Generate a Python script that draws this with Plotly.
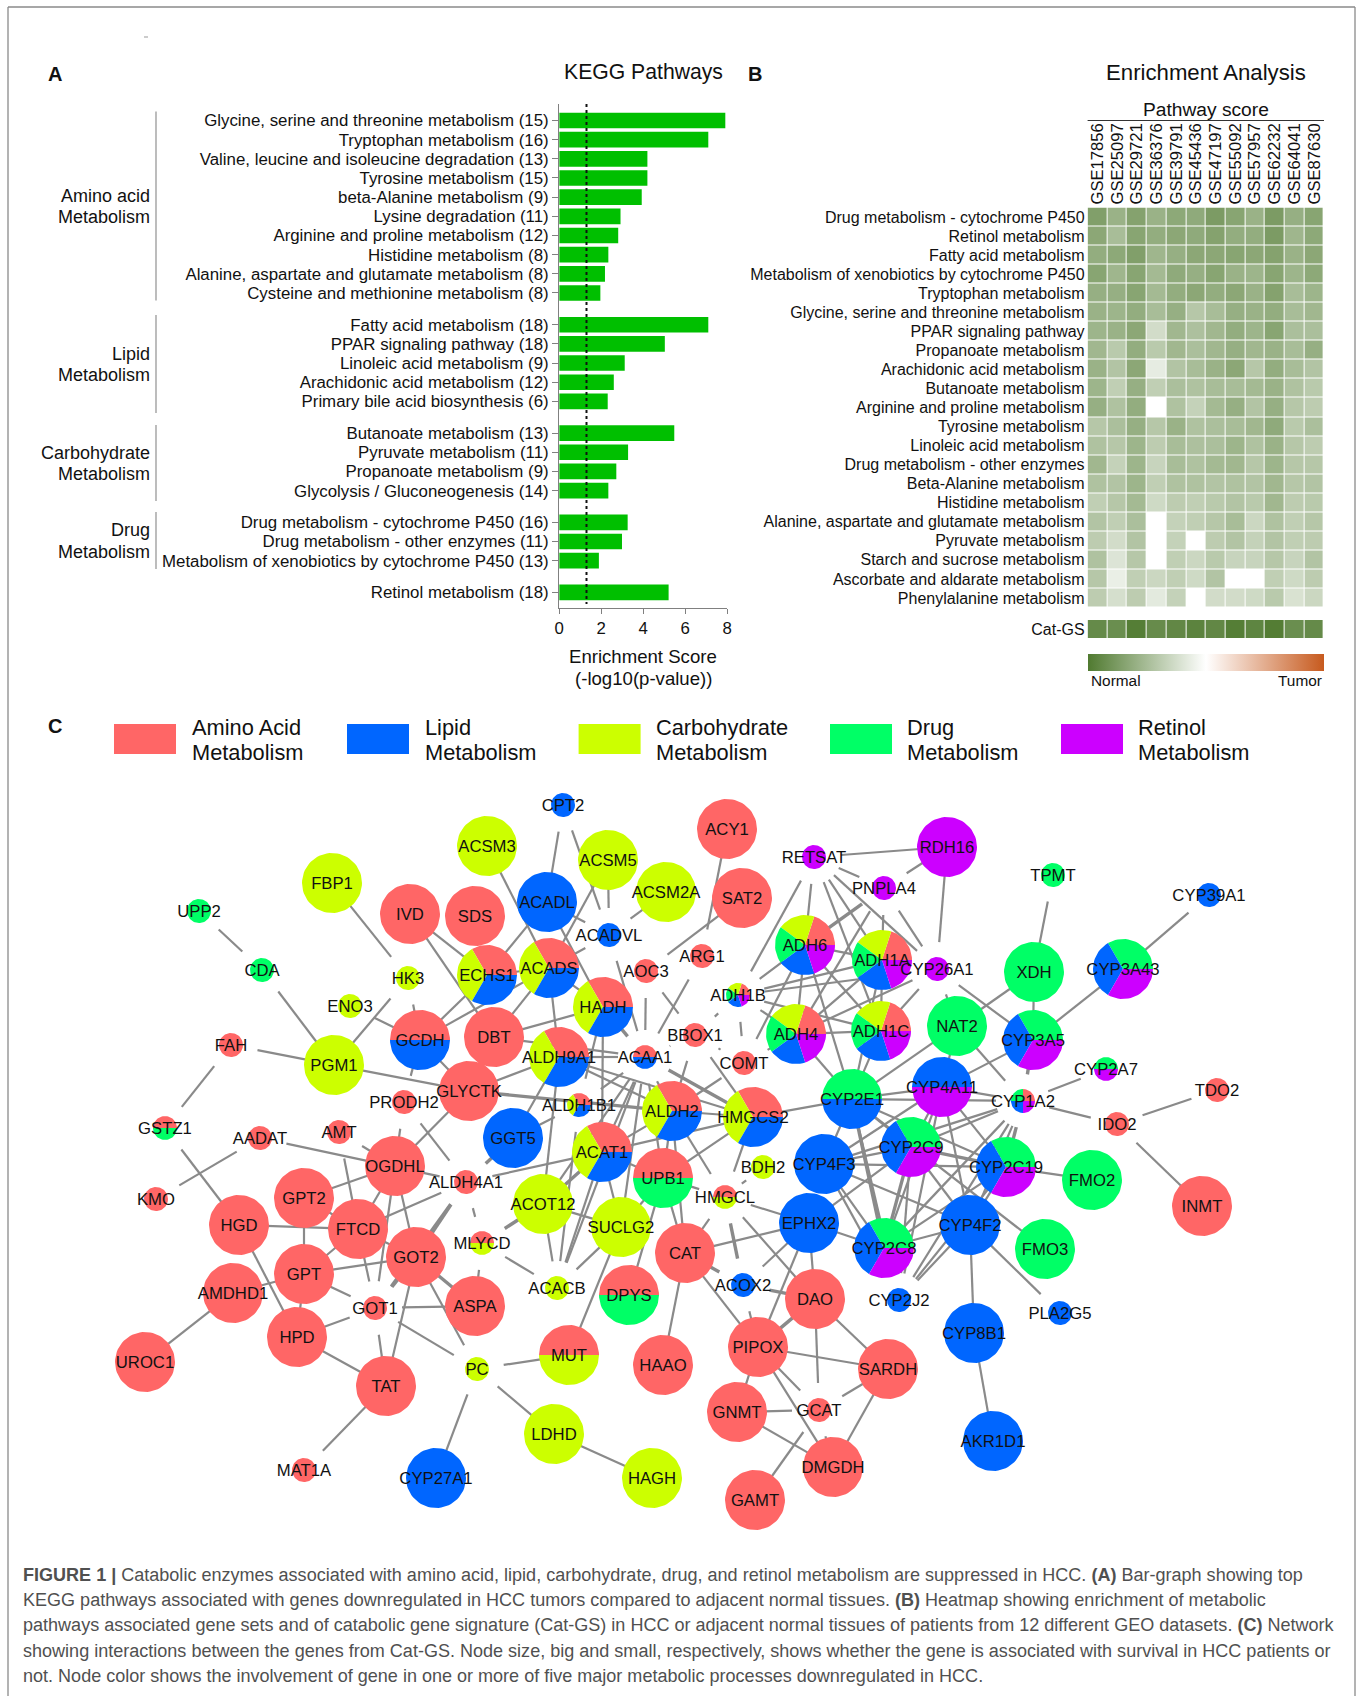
import math
import plotly.graph_objects as go

W, H = 1362, 1696
FONT = "Liberation Sans"
RED, BLUE, YEL, GRN, PUR = "#FF6666", "#0066FF", "#CCFF00", "#00FF66", "#CC00FF"

# ---------- Panel A data ----------
bar_groups = [
    (["Glycine, serine and threonine metabolism (15)", "Tryptophan metabolism (16)",
      "Valine, leucine and isoleucine degradation (13)", "Tyrosine metabolism (15)",
      "beta-Alanine metabolism (9)", "Lysine degradation (11)", "Arginine and proline metabolism (12)",
      "Histidine metabolism (8)", "Alanine, aspartate and glutamate metabolism (8)",
      "Cysteine and methionine metabolism (8)"],
     [7.91, 7.1, 4.2, 4.2, 3.93, 2.92, 2.81, 2.34, 2.18, 1.96]),
    (["Fatty acid metabolism (18)", "PPAR signaling pathway (18)", "Linoleic acid metabolism (9)",
      "Arachidonic acid metabolism (12)", "Primary bile acid biosynthesis (6)"],
     [7.1, 5.03, 3.12, 2.6, 2.31]),
    (["Butanoate metabolism (13)", "Pyruvate metabolism (11)", "Propanoate metabolism (9)",
      "Glycolysis / Gluconeogenesis (14)"],
     [5.48, 3.28, 2.72, 2.34]),
    (["Drug metabolism - cytochrome P450 (16)", "Drug metabolism - other enzymes (11)",
      "Metabolism of xenobiotics by cytochrome P450 (13)"],
     [3.26, 2.99, 1.89]),
    (["Retinol metabolism (18)"], [5.21]),
]
group_titles = [("Amino acid", 195.5, 300.4, 111.6), ("Lipid", 353.5, 413, 315),
                ("Carbohydrate", 453, 501, 425), ("Drug", 530, 569, 512)]
xticks_bar = [0, 2, 4, 6, 8]
GROUP_GAP = 1.655

# ---------- Panel B data ----------
gse = ["GSE17856", "GSE25097", "GSE29721", "GSE36376", "GSE39791", "GSE45436", "GSE47197", "GSE55092",
       "GSE57957", "GSE62232", "GSE64041", "GSE87630"]
pathways = ["Drug metabolism - cytochrome P450", "Retinol metabolism", "Fatty acid metabolism",
            "Metabolism of xenobiotics by cytochrome P450", "Tryptophan metabolism",
            "Glycine, serine and threonine metabolism", "PPAR signaling pathway", "Propanoate metabolism",
            "Arachidonic acid metabolism", "Butanoate metabolism", "Arginine and proline metabolism",
            "Tyrosine metabolism", "Linoleic acid metabolism", "Drug metabolism - other enzymes",
            "Beta-Alanine metabolism", "Histidine metabolism", "Alanine, aspartate and glutamate metabolism",
            "Pyruvate metabolism", "Starch and sucrose metabolism", "Ascorbate and aldarate metabolism",
            "Phenylalanine metabolism"]
N = None
scores = [
    [-.72, -.58, -.70, -.58, -.65, -.64, -.75, -.68, -.58, -.75, -.60, -.68],
    [-.66, -.50, -.68, -.62, -.66, -.64, -.70, -.62, -.62, -.75, -.55, -.65],
    [-.62, -.65, -.72, -.55, -.60, -.66, -.66, -.68, -.66, -.70, -.58, -.66],
    [-.68, -.55, -.68, -.52, -.64, -.60, -.68, -.58, -.56, -.68, -.56, -.65],
    [-.60, -.60, -.68, -.52, -.62, -.66, -.62, -.66, -.58, -.70, -.50, -.56],
    [-.58, -.56, -.62, -.50, -.60, -.42, -.50, -.60, -.58, -.62, -.50, -.54],
    [-.56, -.58, -.66, -.26, -.54, -.47, -.54, -.62, -.56, -.68, -.48, -.48],
    [-.54, -.40, -.62, -.40, -.54, -.48, -.54, -.60, -.54, -.58, -.50, -.60],
    [-.58, -.44, -.66, -.14, -.44, -.50, -.58, -.66, -.42, -.62, -.50, -.44],
    [-.56, -.36, -.60, -.36, -.48, -.46, -.50, -.50, -.52, -.58, -.46, -.40],
    [-.60, -.46, -.62, N, -.46, -.34, -.52, -.60, -.44, -.60, -.42, -.38],
    [-.42, -.48, -.60, -.42, -.58, -.46, -.48, -.50, -.54, -.64, -.40, -.48],
    [-.46, -.42, -.56, -.38, -.50, -.47, -.48, -.56, -.46, -.58, -.42, -.38],
    [-.54, -.34, -.56, -.32, -.50, -.46, -.52, -.54, -.42, -.56, -.42, -.42],
    [-.46, -.44, -.56, -.36, -.46, -.46, -.44, -.46, -.44, -.54, -.42, -.44],
    [-.36, -.42, -.52, -.28, -.38, -.36, -.40, -.44, -.40, -.54, -.38, -.40],
    [-.44, -.36, -.48, N, -.34, -.36, -.42, -.50, -.30, -.46, -.36, -.42],
    [-.38, -.26, -.44, N, -.34, N, -.38, -.44, -.34, -.44, -.36, -.38],
    [-.46, -.20, -.42, N, -.36, -.30, -.40, -.32, -.32, -.42, -.32, -.44],
    [-.42, -.12, -.36, -.30, -.36, -.28, -.44, N, N, -.36, -.28, -.38],
    [-.38, -.24, -.38, -.16, -.34, N, -.26, -.26, -.28, -.40, -.22, -.30],
]
cat_gs = [-.88, -.85, -.97, -.87, -.90, -.93, -.90, -.97, -.92, -.98, -.85, -.88]
heat_scale = [[0, "#507A30"], [0.5, "#FFFFFF"], [1, "#C75A1E"]]

# ---------- Panel C data: name, x, y, big(1)/small(0), categories ----------
# categories: A amino acid, C carbohydrate, D drug, L lipid, R retinol
nodes = [
    ("CPT2", 563, 805, 0, "L"), ("ACSM3", 487, 846, 1, "C"), ("ACSM5", 608, 860, 1, "C"),
    ("FBP1", 332, 883, 1, "C"), ("UPP2", 199, 911, 0, "D"), ("ACADL", 547, 902, 1, "L"),
    ("IVD", 410, 914, 1, "A"), ("SDS", 475, 916, 1, "A"), ("ACSM2A", 666, 892, 1, "C"),
    ("ACADVL", 609, 935, 0, "L"), ("CDA", 262, 970, 0, "D"), ("ECHS1", 487, 975, 1, "ACL"),
    ("ACADS", 549, 968, 1, "ACL"), ("HK3", 408, 978, 0, "C"), ("AOC3", 646, 971, 0, "A"),
    ("ENO3", 350, 1006, 0, "C"), ("HADH", 603, 1007, 1, "ACL"), ("GCDH", 420, 1040, 1, "AL"),
    ("DBT", 494, 1037, 1, "A"), ("FAH", 231, 1045, 0, "A"), ("PGM1", 334, 1065, 1, "C"),
    ("ALDH9A1", 559, 1057, 1, "ACL"), ("ACAA1", 645, 1057, 0, "AL"), ("GLYCTK", 469, 1091, 1, "A"),
    ("PRODH2", 404, 1102, 0, "A"), ("ALDH1B1", 579, 1105, 0, "ACL"), ("ALDH2", 672, 1111, 1, "ACL"),
    ("GGT5", 513, 1138, 1, "L"), ("GSTZ1", 165, 1128, 0, "AD"), ("AADAT", 260, 1138, 0, "A"),
    ("AMT", 339, 1132, 0, "A"), ("OGDHL", 395, 1166, 1, "A"), ("ACAT1", 602, 1152, 1, "ACL"),
    ("UPB1", 663, 1178, 1, "AD"), ("ALDH4A1", 466, 1182, 0, "A"), ("KMO", 156, 1199, 0, "A"),
    ("GPT2", 304, 1198, 1, "A"), ("ACOT12", 543, 1204, 1, "C"), ("HGD", 239, 1225, 1, "A"),
    ("FTCD", 358, 1229, 1, "A"), ("SUCLG2", 621, 1227, 1, "C"), ("GOT2", 416, 1257, 1, "A"),
    ("MLYCD", 482, 1243, 0, "AC"), ("GPT", 304, 1274, 1, "A"), ("AMDHD1", 233, 1293, 1, "A"),
    ("ASPA", 475, 1306, 1, "A"), ("ACACB", 557, 1288, 0, "C"), ("DPYS", 629, 1295, 1, "AD"),
    ("GOT1", 375, 1308, 0, "A"), ("CAT", 685, 1253, 1, "A"), ("HPD", 297, 1337, 1, "A"),
    ("UROC1", 145, 1362, 1, "A"), ("TAT", 386, 1386, 1, "A"), ("PC", 477, 1369, 0, "C"),
    ("MUT", 569, 1355, 1, "AC"), ("HAAO", 663, 1365, 1, "A"), ("LDHD", 554, 1434, 1, "C"),
    ("HAGH", 652, 1478, 1, "C"), ("MAT1A", 304, 1470, 0, "A"), ("CYP27A1", 436, 1478, 1, "L"),
    ("ACY1", 727, 829, 1, "A"), ("RDH16", 947, 847, 1, "R"), ("RETSAT", 814, 857, 0, "R"),
    ("TPMT", 1053, 875, 0, "D"), ("CYP39A1", 1209, 895, 0, "L"), ("PNPLA4", 884, 888, 0, "R"),
    ("SAT2", 742, 898, 1, "A"), ("ARG1", 702, 956, 0, "A"), ("ADH6", 805, 945, 1, "ACDLR"),
    ("ADH1A", 882, 960, 1, "ACDLR"), ("CYP26A1", 937, 969, 0, "R"), ("XDH", 1034, 972, 1, "D"),
    ("CYP3A43", 1123, 969, 1, "DLR"), ("ADH1B", 738, 995, 0, "ACDLR"), ("ADH4", 796, 1034, 1, "ACDLR"),
    ("ADH1C", 881, 1031, 1, "ACDLR"), ("NAT2", 957, 1026, 1, "D"), ("CYP3A5", 1033, 1040, 1, "DLR"),
    ("BBOX1", 695, 1035, 0, "A"), ("COMT", 744, 1063, 0, "A"), ("CYP2A7", 1106, 1069, 0, "DR"),
    ("TDO2", 1217, 1090, 0, "A"), ("CYP2E1", 852, 1099, 1, "DL"), ("CYP4A11", 942, 1087, 1, "LR"),
    ("CYP1A2", 1023, 1101, 0, "ADLR"), ("HMGCS2", 753, 1117, 1, "ACL"), ("IDO2", 1117, 1124, 0, "A"),
    ("CYP2C9", 911, 1147, 1, "DLR"), ("CYP4F3", 824, 1164, 1, "L"), ("CYP2C19", 1006, 1167, 1, "DLR"),
    ("FMO2", 1092, 1180, 1, "D"), ("BDH2", 763, 1167, 0, "C"), ("HMGCL", 725, 1197, 0, "AC"),
    ("INMT", 1202, 1206, 1, "A"), ("EPHX2", 809, 1223, 1, "L"), ("CYP4F2", 970, 1225, 1, "L"),
    ("FMO3", 1045, 1249, 1, "D"), ("CYP2C8", 884, 1248, 1, "DLR"), ("ACOX2", 743, 1285, 0, "L"),
    ("CYP2J2", 899, 1300, 0, "L"), ("PLA2G5", 1060, 1313, 0, "L"), ("DAO", 815, 1299, 1, "A"),
    ("CYP8B1", 974, 1333, 1, "L"), ("PIPOX", 758, 1347, 1, "A"), ("SARDH", 888, 1369, 1, "A"),
    ("GNMT", 737, 1412, 1, "A"), ("GCAT", 819, 1410, 0, "A"), ("AKR1D1", 993, 1441, 1, "L"),
    ("DMGDH", 833, 1467, 1, "A"), ("GAMT", 755, 1500, 1, "A"),
]
edges = """CPT2-ACADL CPT2-ACADVL ACSM3-ACADS ACSM5-ACADS ACSM5-ACADVL ACSM2A-ACADVL ACADL-ACADVL ACADL-ECHS1
ACADL-HADH ACADVL-ACADS ACADVL-ACAA1 FBP1-HK3 UPP2-CDA CDA-PGM1 HK3-PGM1 HK3-GCDH ENO3-GCDH IVD-ECHS1 IVD-DBT
GCDH-ECHS1 GCDH-ACADS ACADS-DBT HADH-DBT GCDH-GLYCTK GCDH-PRODH2 ACADS-ALDH9A1 ACADS-HADH ECHS1-ACADS FAH-PGM1
FAH-GSTZ1 GSTZ1-HGD KMO-AADAT AADAT-ALDH4A1 AMT-OGDHL AMT-FTCD PGM1-GLYCTK GLYCTK-ALDH9A1
PRODH2-ALDH4A1 OGDHL-GLYCTK OGDHL-PRODH2 OGDHL-GPT2 OGDHL-FTCD OGDHL-GOT1 OGDHL-GOT2 ALDH4A1-ACAT1
ALDH4A1-FTCD ALDH4A1-MLYCD ALDH4A1-GOT1 MLYCD-ASPA MLYCD-ACACB ACOT12-SUCLG2 ACOT12-ACACB
ACOT12-ALDH9A1 GGT5-ALDH1B1 GGT5-ALDH9A1 ALDH1B1-ALDH9A1 ALDH1B1-ACACB ALDH1B1-ACAA1 ACAT1-ALDH2 ACAT1-HADH
ACAT1-ACAA1 ACAT1-UPB1 ACAT1-SUCLG2 ACAT1-ACACB ACAT1-HMGCS2 SUCLG2-ACACB SUCLG2-MUT SUCLG2-ACAA1 UPB1-DPYS
UPB1-ACAA1 UPB1-HMGCL ALDH2-ACAA1 ALDH2-HMGCS2 ALDH2-HMGCL HMGCS2-HMGCL HMGCS2-UPB1 HMGCS2-CYP2E1 ALDH2-ALDH9A1
ALDH2-COMT ALDH9A1-HMGCS2 ALDH9A1-ACAA1 AOC3-ACAA1 AOC3-BBOX1 AOC3-HADH ARG1-ACAA1 SAT2-AOC3 ACY1-ARG1 BBOX1-ALDH2
BBOX1-HMGCS2 BBOX1-ACAA1 BBOX1-COMT ADH1B-COMT ADH1B-BBOX1 ADH1B-RETSAT ADH1B-ADH6 ADH1B-ADH1A ADH1B-ADH1C
ADH1B-ADH4 ADH1B-CYP26A1 COMT-ADH4 COMT-ADH6 RETSAT-RDH16 RETSAT-PNPLA4 RETSAT-ADH6 RETSAT-ADH1A RETSAT-CYP26A1
RETSAT-ADH1C PNPLA4-RDH16 PNPLA4-ADH1A PNPLA4-CYP26A1 PNPLA4-ADH4 RDH16-CYP26A1 CYP26A1-ADH1A
CYP26A1-ADH1C CYP26A1-ADH4 CYP26A1-NAT2 CYP26A1-CYP3A5 ADH6-ADH1A ADH6-ADH4 ADH6-ADH1C ADH6-CYP2E1 ADH1A-ADH1C
ADH1A-ADH4 ADH4-CYP2E1 ADH4-ADH1C ADH1C-CYP2E1 ADH1A-CYP2E1 TPMT-XDH XDH-CYP3A5 XDH-NAT2 CYP3A43-CYP3A5
CYP3A43-CYP39A1 CYP3A5-CYP4A11 NAT2-CYP1A2 NAT2-CYP2E1 NAT2-CYP4A11 CYP1A2-CYP2A7 CYP1A2-IDO2 IDO2-TDO2
IDO2-INMT CYP4A11-CYP1A2 CYP2E1-CYP1A2 CYP2E1-CYP4A11 CYP2E1-CYP2C9 CYP2E1-CYP4F3 CYP2E1-CYP2C19
CYP4A11-CYP2C9 CYP4A11-CYP2C8 CYP4A11-CYP4F2 CYP4A11-CYP2C19 CYP4A11-CYP4F3 CYP1A2-CYP2C9 CYP1A2-CYP2C8
CYP1A2-CYP4F2 CYP1A2-CYP2J2 CYP1A2-CYP4F3 CYP2C9-CYP4F3 CYP2C9-CYP4F2 CYP2C9-EPHX2 CYP2C9-CYP2J2
CYP2C19-CYP4F3 CYP2C19-CYP2C8 CYP2C19-CYP4F2 CYP2C19-FMO2 CYP2C19-CYP2J2 CYP4F3-CYP2C8 CYP4F3-CYP4F2
EPHX2-CYP2C8 EPHX2-HMGCL EPHX2-CAT EPHX2-ACOX2 EPHX2-DAO EPHX2-PIPOX CYP2C8-CYP4F2 CYP2C8-CYP2J2 CYP4F2-CYP2J2
CYP4F2-CYP8B1 CYP4F2-PLA2G5 CYP2E1-FMO3 CYP8B1-AKR1D1 HMGCL-BDH2 HMGCL-CAT HMGCL-DAO CAT-PIPOX
CAT-HAAO CAT-UPB1 ACOX2-PIPOX DAO-SARDH DAO-GCAT PIPOX-SARDH PIPOX-GCAT PIPOX-GNMT PIPOX-DMGDH SARDH-GCAT
SARDH-DMGDH GNMT-GCAT GNMT-DMGDH GCAT-DMGDH GCAT-GAMT HGD-FTCD HGD-HPD GPT2-FTCD GPT2-GPT GPT-FTCD GPT-GOT2
GPT-AMDHD1 GPT-GOT1 GPT-HPD FTCD-GOT2 FTCD-GOT1 GOT2-TAT GOT2-PC GOT1-ASPA GOT1-HPD GOT1-TAT GOT1-PC
AMDHD1-UROC1 HPD-TAT TAT-MAT1A PC-MUT PC-CYP27A1 PC-LDHD LDHD-HAGH
HADH-ALDH1B1 DBT-ACAA1 ALDH2-CAT UPB1-SUCLG2 ALDH2-UPB1 ACAT1-ALDH1B1 ACAA1-ACOT12 ACAA1-ACACB
CYP4A11-CYP2J2 CYP4F3-CYP2J2 CYP2E1-CYP2J2""".split()
thick_edges = """GLYCTK-ALDH2 ALDH4A1-GGT5 ALDH4A1-GOT2 MLYCD-ACOT12 ACOT12-ACAT1 HMGCS2-ACAA1 HADH-ACAA1 PNPLA4-ADH6
CYP3A5-CYP1A2 CYP2E1-CYP2C8 CYP1A2-CYP2C19 CYP2C9-CYP2C19 CYP2C9-CYP2C8 HMGCL-ACOX2 CAT-ACOX2 ACOX2-DAO DAO-PIPOX
GOT2-GOT1 GOT2-ASPA""".split()
legend_items = [("Amino Acid", RED, 114, 189.5), ("Lipid", BLUE, 347, 423), ("Carbohydrate", YEL, 578.6, 654),
                ("Drug", GRN, 830, 904.5), ("Retinol", PUR, 1061, 1136)]
caption = [
    "<b>FIGURE 1 |</b> Catabolic enzymes associated with amino acid, lipid, carbohydrate, drug, and retinol metabolism are suppressed in HCC. <b>(A)</b> Bar-graph showing top",
    "KEGG pathways associated with genes downregulated in HCC tumors compared to adjacent normal tissues. <b>(B)</b> Heatmap showing enrichment of metabolic",
    "pathways associated gene sets and of catabolic gene signature (Cat-GS) in HCC or adjacent normal tissues of patients from 12 different GEO datasets. <b>(C)</b> Network",
    "showing interactions between the genes from Cat-GS. Node size, big and small, respectively, shows whether the gene is associated with survival in HCC patients or",
    "not. Node color shows the involvement of gene in one or more of five major metabolic processes downregulated in HCC.",
]
caption_y = [1575, 1600, 1625, 1650.5, 1675.5]

# ---------- helpers ----------
def px(x): return x / W
def py(y): return 1 - y / H
def note(text, x, y, size, anchor="center", color="#111111"):
    return dict(text=text, x=px(x), y=py(y), xref="paper", yref="paper", showarrow=False, xanchor=anchor,
                yanchor="middle", align=anchor, font=dict(size=size, color=color, family=FONT))

fig = go.Figure()

# ---------- network ----------
pos = {n[0]: (n[1], n[2]) for n in nodes}
NODE_CLIP = 27
LABEL_DROP = 2
def edge_xy(pairs):
    xs, ys = [], []
    for e in pairs:
        a, b = e.split("-")
        (x0, y0), (x1, y1) = pos[a], pos[b]
        d = math.hypot(x1 - x0, y1 - y0)
        ux, uy = (x1 - x0) / d, (y1 - y0) / d
        xs += [x0 + ux * NODE_CLIP, x1 - ux * NODE_CLIP, None]
        ys += [y0 + uy * NODE_CLIP, y1 - uy * NODE_CLIP, None]
    return xs, ys

for pairs, lw in ((edges, 2.2), (thick_edges, 3.4)):
    ex, ey = edge_xy(pairs)
    fig.add_trace(go.Scatter(x=ex, y=ey, mode="lines", line=dict(color="#8A8A8A", width=lw), hoverinfo="skip",
                             xaxis="x", yaxis="y", showlegend=False))

cat_color = dict(A=RED, C=YEL, D=GRN, L=BLUE, R=PUR)
cat_names = dict(A="Amino Acid Metabolism", C="Carbohydrate Metabolism", D="Drug Metabolism",
                 L="Lipid Metabolism", R="Retinol Metabolism")
R_BIG, R_SMALL = 30, 12
for c in "ACDLR":
    wx, wy = [], []
    for name, x, y, big, cats in nodes:
        if c not in cats:
            continue
        r = R_BIG if big else R_SMALL
        k = cats.index(c)
        span = 360 / len(cats)
        steps = max(6, int(span / 5))
        angs = [k * span + span * s / steps for s in range(steps + 1)]
        pts = [(x + r * math.cos(math.radians(a)), y - r * math.sin(math.radians(a))) for a in angs]
        if len(cats) > 1:
            pts = [(x, y)] + pts + [(x, y)]
        wx += [p[0] for p in pts] + [None]
        wy += [p[1] for p in pts] + [None]
    fig.add_trace(go.Scatter(x=wx, y=wy, mode="lines", fill="toself", fillcolor=cat_color[c], line=dict(width=0),
                             name=cat_names[c], hoverinfo="skip", xaxis="x", yaxis="y", showlegend=False))

fig.add_trace(go.Scatter(x=[n[1] for n in nodes], y=[n[2] + LABEL_DROP for n in nodes], text=[n[0] for n in nodes],
                         mode="text", textposition="middle center",
                         textfont=dict(size=16.7, color="#111111", family=FONT),
                         hoverinfo="text", xaxis="x", yaxis="y", showlegend=False))

# ---------- bars ----------
bar_y, bar_labels, bar_vals = [], [], []
cursor = 0.0
for labels, vals in bar_groups:
    for l, v in zip(labels, vals):
        bar_y.append(cursor)
        bar_labels.append(l)
        bar_vals.append(v)
        cursor += 1
    cursor += GROUP_GAP - 1
fig.add_trace(go.Bar(x=bar_vals, y=bar_y, orientation="h", width=0.815, marker=dict(color="#00BF00", line=dict(width=0)),
                     xaxis="x2", yaxis="y2", showlegend=False))

# ---------- heatmaps ----------
fig.add_trace(go.Heatmap(z=scores, x=gse, y=pathways, zmin=-1, zmax=1, colorscale=heat_scale, xgap=1, ygap=1,
                         xaxis="x3", yaxis="y3",
                         colorbar=dict(orientation="h", x=px(1087.6), xanchor="left", y=py(654.5), yanchor="top",
                                       len=236.4, lenmode="pixels", thickness=16.5, thicknessmode="pixels",
                                       outlinewidth=0, showticklabels=False, ticks="", xpad=0, ypad=0)))
fig.add_trace(go.Heatmap(z=[cat_gs], x=gse, y=["Cat-GS"], zmin=-1, zmax=1, colorscale=heat_scale, xgap=1, ygap=1,
                         showscale=False, xaxis="x4", yaxis="y4"))

AX = "#808080"
fig.update_layout(
    width=W, height=H, margin=dict(l=0, r=0, t=0, b=0, autoexpand=False), paper_bgcolor="white", plot_bgcolor="white",
    font=dict(family=FONT, color="#111111"), showlegend=False, barmode="overlay",
    xaxis=dict(domain=[0, 1], range=[0, W], visible=False),
    yaxis=dict(domain=[0, 1], range=[H, 0], visible=False),
    xaxis2=dict(domain=[px(559.2), px(727.2)], range=[0, 8], tickvals=xticks_bar, anchor="y2", showgrid=False, zeroline=False,
                showline=True, linecolor=AX, linewidth=1.3, ticks="outside", ticklen=5, tickcolor=AX, tickfont=dict(size=16.8)),
    yaxis2=dict(domain=[py(608), py(104)], range=[bar_y[-1] + 0.815, -0.86], tickvals=bar_y, ticktext=bar_labels, anchor="x2",
                showgrid=False, zeroline=False, showline=True, linecolor=AX, linewidth=1.3, ticks="outside", ticklen=6,
                tickcolor=AX, tickfont=dict(size=16.85)),
    xaxis3=dict(domain=[px(1087.6), px(1324)], side="top", anchor="y3", tickangle=-90, ticks="", showgrid=False, zeroline=False,
                tickmode="array", tickvals=gse, ticktext=gse, tickfont=dict(size=16.6), ticklabelstandoff=2),
    yaxis3=dict(domain=[py(607.5), py(207.5)], autorange="reversed", anchor="x3", ticks="", showgrid=False, zeroline=False,
                tickmode="array", tickvals=pathways, ticktext=pathways, tickfont=dict(size=16), ticklabelstandoff=2),
    xaxis4=dict(domain=[px(1087.6), px(1324)], anchor="y4", showticklabels=False, ticks="", showgrid=False, zeroline=False),
    yaxis4=dict(domain=[py(639), py(620)], anchor="x4", ticks="", showgrid=False, zeroline=False, tickfont=dict(size=16),
                ticklabelstandoff=2),
)

# ---------- annotations ----------
ann = [note("<b>A</b>", 55, 74, 20), note("<b>B</b>", 755, 74, 20), note("<b>C</b>", 55, 725.5, 20),
       note("KEGG Pathways", 643, 72, 21.2), note("Enrichment Analysis", 1205.5, 72, 22.2),
       note("Enrichment Score", 643, 656, 18.6), note("(-log10(p-value))", 643, 678, 18.6),
       note("Pathway score", 1206, 109, 19.2), note("Normal", 1088.5, 680, 15.4, "left"),
       note("Tumor", 1324, 680, 15.4, "right")]
for title, y, *_ in group_titles:
    ann.append(note(title, 151.5, y, 18, "right"))
    ann.append(note("Metabolism", 151.5, y + 21.5, 18, "right"))
for label, color, x0, tx in legend_items:
    ann.append(note(label, tx, 727, 21.8, "left"))
    ann.append(note("Metabolism", tx, 752.6, 21.8, "left"))
for line, y in zip(caption, caption_y):
    ann.append(note(line, 21, y, 18.05, "left", "#505050"))
fig.update_layout(annotations=ann)

# ---------- shapes ----------
shp = []
for _, _, y1, y0 in group_titles:
    shp.append(dict(type="line", xref="paper", yref="paper", x0=px(156), x1=px(156), y0=py(y0), y1=py(y1),
                    line=dict(color="#999999", width=1.3)))
shp.append(dict(type="line", xref="x2", yref="paper", x0=1.3, x1=1.3, y0=py(104), y1=py(604),
                line=dict(color="#111111", width=2, dash="dot")))
shp.append(dict(type="line", xref="paper", yref="paper", x0=px(1087.6), x1=px(1324), y0=py(120.5), y1=py(120.5),
                line=dict(color="#333333", width=1)))
for label, color, x0, tx in legend_items:
    shp.append(dict(type="rect", xref="paper", yref="paper", x0=px(x0), x1=px(x0 + 62), y0=py(754), y1=py(724),
                    fillcolor=color, line=dict(width=0)))
frame = dict(color="#8A8A8A", width=1.3)
shp += [dict(type="line", xref="paper", yref="paper", x0=px(8), x1=px(1355), y0=py(7), y1=py(7), line=frame),
        dict(type="line", xref="paper", yref="paper", x0=px(8), x1=px(8), y0=py(7), y1=0, line=frame),
        dict(type="line", xref="paper", yref="paper", x0=px(1355), x1=px(1355), y0=py(7), y1=0, line=frame),
        dict(type="line", xref="paper", yref="paper", x0=px(144), x1=px(148), y0=py(37), y1=py(37),
             line=dict(color="#999999", width=1))]
fig.update_layout(shapes=shp)

fig.write_html("out.html", config=dict(displayModeBar=False),
               post_script="document.body.style.margin='0';document.documentElement.style.overflow='hidden';")
